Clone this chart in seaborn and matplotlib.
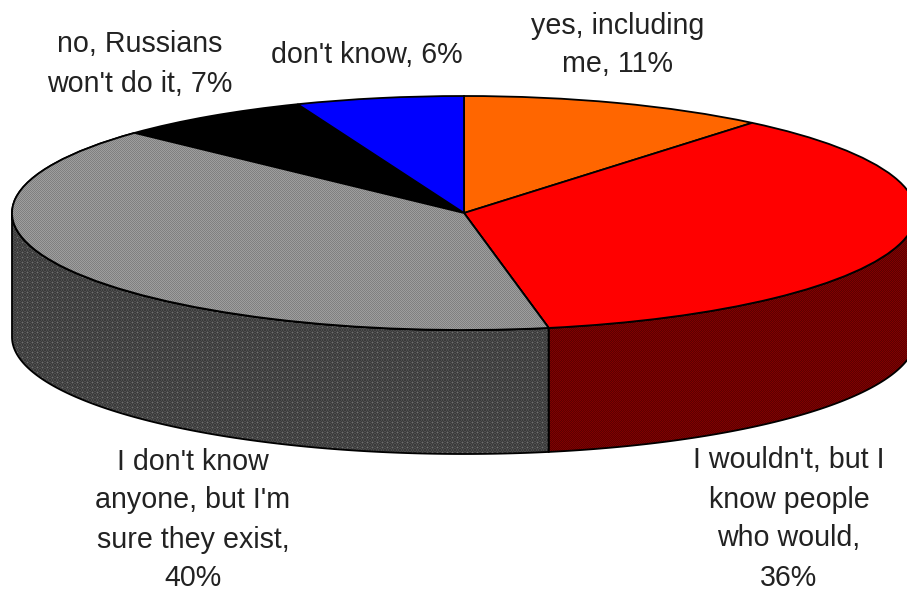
import numpy as np
import matplotlib
matplotlib.use("Agg")
import matplotlib.pyplot as plt
from matplotlib.patches import Wedge
import seaborn as sns

# Survey answers, clockwise from twelve o'clock
answers = [
    "yes, including\nme,",
    "I wouldn't, but I\nknow people\nwho would,\n",
    "I don't know\nanyone, but I'm\nsure they exist,\n",
    "no, Russians\nwon't do it,",
    "don't know,",
]
shares = [11, 36, 40, 7, 6]
slice_colors = ["#FF6600", "#FF0000", "#8C8C8C", "#000000", "#0000FF"]
label_anchor_px = [(618, 45), (789, 519), (193, 520), (140, 64), (367, 55)]

W, H = 907, 591
CX, CY = 464, 213        # pie centre in pixels
RX, RY = 452, 117        # ellipse radii in pixels
DEPTH = 124 / RY         # thickness of the disc in pie units
LW = 1.3

sns.set_theme(style="white")
plt.rcParams["font.family"] = ["Liberation Sans", "DejaVu Sans"]

fig = plt.figure(figsize=(W / 100, H / 100), dpi=100)
ax = fig.add_axes([0, 0, 1, 1])


def px_x(x):
    return (x - CX) / RX


def px_y(y):
    return (CY - y) / RY


XLIM = (px_x(0), px_x(W))
YLIM = (px_y(H), px_y(0))
extent = (*XLIM, *YLIM)


def textured(pattern, clip, zorder):
    """Fill a patch with a tiled RGB pixel pattern, like an old 8-bit dither."""
    pat = np.array(pattern, dtype=float) / 255
    ny, nx = pat.shape[:2]
    tile = np.tile(pat, (H // ny + 1, W // nx + 1, 1))[:H, :W]
    im = ax.imshow(tile, extent=extent, origin="upper", aspect="auto",
                   interpolation="nearest", zorder=zorder)
    im.set_clip_path(clip)
    return im


g1, g2 = (128, 128, 128), (158, 158, 158)
r1, r2 = (128, 0, 0), (92, 0, 0)
d1, d2, d3 = (58, 58, 58), (78, 78, 78), (112, 112, 112)
top_gray = [[g1, g2], [g2, g1]]
side_red = [[r1, r2], [r2, r1]]
side_gray = [[d1, d2, d1, d2, d1],
             [d2, d1, d2, d1, d2],
             [d1, d2, d3, d2, d1],
             [d2, d1, d2, d1, d2],
             [d1, d2, d1, d2, d1]]

# Rim of the disc: only the front half of the ellipse is visible
edges = np.cumsum([0] + shares) / sum(shares) * 2 * np.pi
rim_patterns = {1: side_red, 2: side_gray}
for i, pattern in rim_patterns.items():
    a0 = max(edges[i], np.pi / 2)
    a1 = min(edges[i + 1], 3 * np.pi / 2)
    t = np.linspace(a0, a1, 200)
    x, y = np.sin(t), np.cos(t)
    px = np.concatenate([x, x[::-1]])
    py = np.concatenate([y, (y - DEPTH)[::-1]])
    rim = ax.fill(px, py, facecolor="none", edgecolor="black",
                  linewidth=LW, zorder=3)[0]
    textured(pattern, rim, zorder=2)

# Top face of the disc
wedges, _ = ax.pie(shares, colors=slice_colors, startangle=90, counterclock=False,
                   radius=1, wedgeprops=dict(edgecolor="black", linewidth=LW, zorder=4))
gray = wedges[2]
textured(top_gray, gray, zorder=4.5)
ax.add_patch(Wedge(gray.center, gray.r, gray.theta1, gray.theta2, facecolor="none",
                   edgecolor="black", linewidth=LW, zorder=5))

for answer, share, (lx, ly) in zip(answers, shares, label_anchor_px):
    sep = "" if answer.endswith("\n") else " "
    ax.text(px_x(lx), px_y(ly), f"{answer}{sep}{share}%", ha="center", va="center",
            fontsize=20.6, color="#222222", linespacing=1.5, zorder=6)

ax.set_xlim(*XLIM)
ax.set_ylim(*YLIM)
ax.set_aspect("auto")
ax.axis("off")
fig.savefig("out.png", dpi=100, facecolor="white")
